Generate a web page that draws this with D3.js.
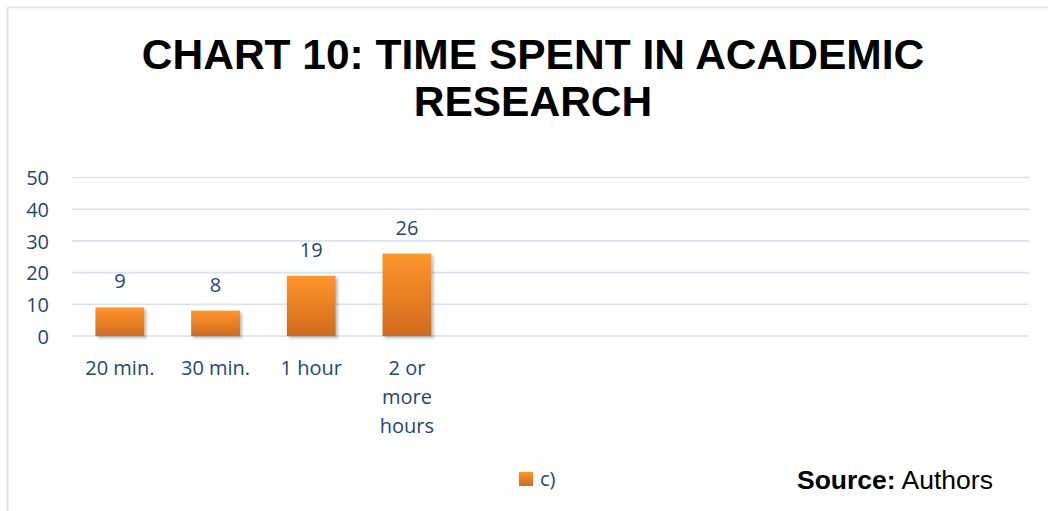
<!DOCTYPE html>
<html>
<head>
<meta charset="utf-8">
<script src="https://cdn.jsdelivr.net/npm/d3@7"></script>
<style>
  html, body { margin: 0; padding: 0; background: #fff; }
  svg { display: block; }
</style>
</head>
<body>
<svg id="chart" width="1048" height="511"></svg>
<script>
// Chart data
const categories = ["20 min.", "30 min.", "1 hour", "2 or more hours"];
const values = [9, 8, 19, 26];
const seriesName = "c)";
const yTicks = [0, 10, 20, 30, 40, 50];
const titleLines = ["CHART 10: TIME SPENT IN ACADEMIC", "RESEARCH"];
// The category axis keeps room for ten slots; only the first four are filled.
const totalSlots = 10;

const W = 1048, H = 511;
const plot = { left: 72, right: 1029, top: 177.5, bottom: 336 };
const textBlue = "#24467a";
const gridColor = "#d9e2f3";

const svg = d3.select("#chart");
const defs = svg.append("defs");

const grad = defs.append("linearGradient")
  .attr("id", "barFill").attr("x1", 0).attr("y1", 0).attr("x2", 0).attr("y2", 1);
grad.append("stop").attr("offset", "0%").attr("stop-color", "#ff962d");
grad.append("stop").attr("offset", "100%").attr("stop-color", "#d16a1d");

const legGrad = defs.append("linearGradient")
  .attr("id", "legFill").attr("x1", 0).attr("y1", 0).attr("x2", 0).attr("y2", 1);
legGrad.append("stop").attr("offset", "0%").attr("stop-color", "#ff962d");
legGrad.append("stop").attr("offset", "100%").attr("stop-color", "#d16a1d");

const shadow = defs.append("filter").attr("id", "barShadow")
  .attr("x", "-20%").attr("y", "-20%").attr("width", "150%").attr("height", "150%");
shadow.append("feDropShadow")
  .attr("dx", 2).attr("dy", 2).attr("stdDeviation", 1.8)
  .attr("flood-color", "#000").attr("flood-opacity", 0.28);

// Outer frame (top and left edges visible)
svg.append("line").attr("x1", 7.5).attr("x2", W).attr("y1", 7.5).attr("y2", 7.5)
  .attr("stroke", gridColor).attr("stroke-width", 1.5);
svg.append("line").attr("x1", 7.5).attr("x2", 7.5).attr("y1", 7.5).attr("y2", H)
  .attr("stroke", gridColor).attr("stroke-width", 2);

// Title
svg.append("text")
  .attr("x", 533).attr("text-anchor", "middle")
  .attr("font-family", "Liberation Sans, Arial, sans-serif")
  .attr("font-weight", "bold").attr("font-size", 42.5).attr("fill", "#000")
  .selectAll("tspan").data(titleLines).join("tspan")
  .attr("x", 533).attr("y", (d, i) => 69 + i * 47).text(d => d);

// Scales
const slotDomain = categories.concat(d3.range(totalSlots - categories.length).map(i => "__slot" + i));
const x = d3.scaleBand().domain(slotDomain).range([plot.left, plot.right])
  .paddingInner(0.49).paddingOuter(0.245);
const y = d3.scaleLinear().domain([0, 50]).range([plot.bottom, plot.top]);

// Gridlines
svg.append("g").selectAll("line").data(yTicks).join("line")
  .attr("x1", plot.left).attr("x2", plot.right)
  .attr("y1", d => y(d)).attr("y2", d => y(d))
  .attr("stroke", gridColor).attr("stroke-width", 1.6);

// Y axis labels
const yAxis = d3.axisLeft(y).tickValues(yTicks).tickSize(0).tickPadding(0);
const yG = svg.append("g").attr("transform", "translate(49,0)").call(yAxis);
yG.select(".domain").remove();
yG.selectAll("text")
  .attr("font-family", "Open Sans, sans-serif").attr("font-size", 20)
  .attr("fill", textBlue).attr("dy", "0.36em");

// Bars
svg.append("g").selectAll("rect").data(values).join("rect")
  .attr("x", (d, i) => x(categories[i]))
  .attr("width", x.bandwidth())
  .attr("y", d => y(d))
  .attr("height", d => y(0) - y(d))
  .attr("fill", "url(#barFill)")
  .attr("filter", "url(#barShadow)");

// Value labels
svg.append("g").selectAll("text").data(values).join("text")
  .attr("x", (d, i) => x(categories[i]) + x.bandwidth() / 2)
  .attr("y", d => y(d) - 19)
  .attr("text-anchor", "middle")
  .attr("font-family", "Open Sans, sans-serif").attr("font-size", 20)
  .attr("fill", textBlue).text(d => d);

// Category labels, wrapped to fit the slot
const xAxis = d3.axisBottom(x).tickSize(0).tickPadding(0)
  .tickFormat(d => categories.includes(d) ? d : "");
const xG = svg.append("g").attr("transform", `translate(0,${plot.bottom})`).call(xAxis);
xG.select(".domain").remove();
xG.selectAll("text")
  .attr("font-family", "Open Sans, sans-serif").attr("font-size", 20)
  .attr("fill", textBlue).attr("y", 39).attr("dy", 0)
  .each(function () { wrap(d3.select(this), 80, 29); });

function wrap(text, width, lineH) {
  const words = text.text().split(/\s+/).filter(Boolean);
  if (!words.length) return;
  const y0 = +text.attr("y");
  text.text(null);
  let line = [];
  let n = 0;
  let tspan = text.append("tspan").attr("x", 0).attr("y", y0);
  words.forEach(w => {
    line.push(w);
    tspan.text(line.join(" "));
    if (tspan.node().getComputedTextLength() > width && line.length > 1) {
      line.pop();
      tspan.text(line.join(" "));
      line = [w];
      n++;
      tspan = text.append("tspan").attr("x", 0).attr("y", y0 + n * lineH).text(w);
    }
  });
}

// Legend
const leg = svg.append("g").attr("transform", "translate(519,472)");
leg.append("rect").attr("width", 14).attr("height", 14).attr("fill", "url(#legFill)");
leg.append("text").attr("x", 21).attr("y", 14)
  .attr("font-family", "Open Sans, sans-serif").attr("font-size", 20)
  .attr("fill", textBlue).text(seriesName);

// Source note
const src = svg.append("text").attr("x", 797).attr("y", 489)
  .attr("font-family", "Liberation Sans, Arial, sans-serif").attr("font-size", 26.5)
  .attr("fill", "#000");
src.append("tspan").attr("font-weight", "bold").text("Source:");
src.append("tspan").text(" Authors");
</script>
</body>
</html>
